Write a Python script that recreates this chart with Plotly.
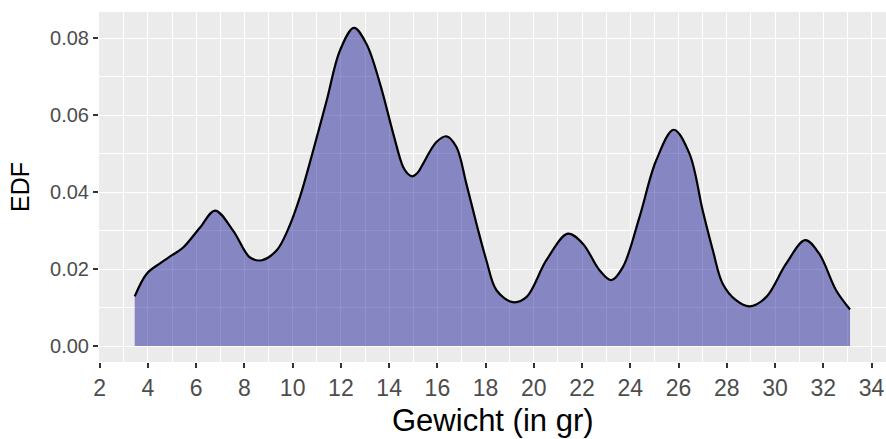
import plotly.graph_objects as go

# Density estimate
gewicht = [3.45, 3.95, 4.5, 5.0, 5.46, 6.16, 6.78, 7.53, 8.23, 8.72, 9.34, 9.82,
           10.30, 10.85, 11.41, 11.96, 12.54, 13.06, 13.62, 14.17, 14.58, 14.78, 14.97,
           15.18, 15.41, 15.96, 16.38, 16.79, 17.20, 17.62, 18.03, 18.45, 19.13, 19.69,
           20.52, 21.41, 22.03, 22.72, 23.21, 23.69, 24.38, 25.07, 25.80, 26.45,
           27.0, 27.42, 27.83, 28.38, 28.94, 29.63, 30.46, 31.25, 31.83, 32.53, 33.11]
dichte = [0.0129, 0.0188, 0.0215, 0.0236, 0.0256, 0.0308, 0.0352, 0.0300, 0.0230,
          0.0223, 0.0249, 0.0305, 0.0387, 0.0508, 0.0638, 0.0768, 0.0827, 0.0785,
          0.0682, 0.0552, 0.0465, 0.0447, 0.0441, 0.0450, 0.0474, 0.0530, 0.0545,
          0.0517, 0.0422, 0.0318, 0.0223, 0.0145, 0.0114, 0.0127, 0.0223, 0.0292,
          0.0266, 0.0197, 0.0171, 0.0205, 0.0335, 0.0482, 0.0562, 0.0500, 0.0352,
          0.0249, 0.0162, 0.0119, 0.0103, 0.0127, 0.0214, 0.0275, 0.0240, 0.0145, 0.0095]

x_ticks = list(range(2, 35, 2))
y_ticks = [0.00, 0.02, 0.04, 0.06, 0.08]
x_title = "Gewicht (in gr)"
y_title = "EDF"

fig = go.Figure()
fig.add_trace(go.Scatter(
    x=gewicht, y=dichte, mode="lines",
    line=dict(color="black", width=2.2, shape="spline", smoothing=1.0),
    fill="tozeroy", fillcolor="rgba(0,0,139,0.43)",
    hoverinfo="skip", showlegend=False,
))

axis_common = dict(
    showgrid=True, gridcolor="white", gridwidth=1.4,
    zeroline=False, showline=False, automargin=False,
    ticks="outside", ticklen=5, tickwidth=2, tickcolor="#333333",
)

fig.update_layout(
    width=886, height=439,
    margin=dict(l=99, r=0, t=12, b=77, autoexpand=False),
    paper_bgcolor="white", plot_bgcolor="#EBEBEB",
    font=dict(family="Liberation Sans, Arial, sans-serif"),
    xaxis=dict(
        **axis_common,
        range=[1.97, 34.6],
        tickvals=x_ticks, ticktext=[str(v) for v in x_ticks],
        tickfont=dict(size=23, color="#4D4D4D"),
        minor=dict(dtick=2, tick0=1, showgrid=True, gridcolor="white", gridwidth=0.7, ticks=""),
    ),
    yaxis=dict(
        **axis_common,
        range=[-0.00415, 0.0868],
        tickvals=y_ticks, ticktext=[f"{v:.2f}" for v in y_ticks],
        tickfont=dict(size=20, color="#4D4D4D"),
        minor=dict(dtick=0.02, tick0=0.01, showgrid=True, gridcolor="white", gridwidth=0.7, ticks=""),
    ),
    annotations=[
        dict(text=x_title, xref="paper", yref="paper", x=0.5, y=0,
             xanchor="center", yanchor="middle", yshift=-58, showarrow=False,
             font=dict(size=31, color="black")),
        dict(text=y_title, xref="paper", yref="paper", x=0, y=0.5,
             xanchor="center", yanchor="middle", xshift=-79, textangle=-90,
             showarrow=False, font=dict(size=25, color="black")),
    ],
)

fig.write_html("out.html", config={"displayModeBar": False},
               post_script="document.body.style.margin='0px';document.body.style.padding='0px';")
